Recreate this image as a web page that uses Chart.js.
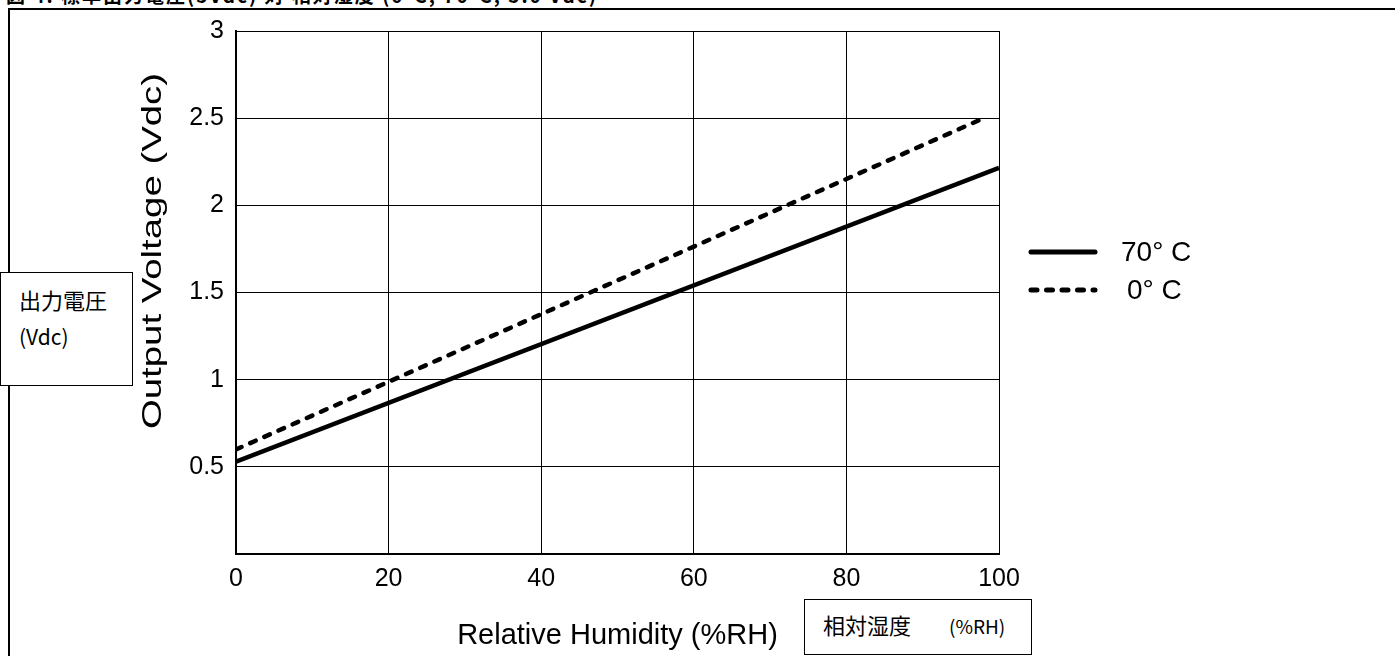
<!DOCTYPE html>
<html>
<head>
<meta charset="utf-8">
<script src="https://cdn.jsdelivr.net/npm/chart.js@4/dist/chart.umd.min.js"></script>
<style>
  html, body { margin: 0; padding: 0; background: #fff; overflow: hidden; }
  #wrap { position: relative; width: 1395px; height: 656px; }
  #frame { position: absolute; left: 8px; top: 8px; width: 1400px; height: 700px; border: 2px solid #000; box-sizing: border-box; }
  #title { position: absolute; left: 6px; top: -19px; font: bold 19px "Noto Sans CJK JP", sans-serif; white-space: nowrap; letter-spacing: 2px; }
  .box { position: absolute; background: #fff; border: 1px solid #000; box-sizing: border-box; font-family: "Noto Sans CJK JP", sans-serif; font-size: 22px; color: #000; }
  #ybox { left: 0; top: 272px; width: 133px; height: 114px; padding: 8px 0 0 18px; line-height: 36px; }
  #ybox .sm { font-size: 21px; }
  #xbox { left: 804px; top: 599px; width: 228px; height: 56px; padding: 0 0 0 18px; line-height: 48px; }
  #xbox .sm { font-size: 19px; margin-left: 38px; }
  canvas { position: absolute; left: 0; top: 0; }
</style>
</head>
<body>
<div id="wrap">
  <div id="title">図 4. 標準出力電圧(5Vdc) 対 相対湿度 (0°C, 70°C, 5.0 Vdc)</div>
  <div id="frame"></div>
  <canvas id="c" width="1395" height="656"></canvas>
  <div class="box" id="ybox">出力電圧<br><span class="sm">(Vdc)</span></div>
  <div class="box" id="xbox">相対湿度<span class="sm">(%RH)</span></div>
</div>
<script>
// values
var seriesLabels = ['70° C', '0° C'];
var hot = [{ x: 0, y: 0.53 }, { x: 100, y: 2.215 }];
var cold = [{ x: 0, y: 0.6 }, { x: 98, y: 2.5 }];
var xTicks = [0, 20, 40, 60, 80, 100];
var yTicks = [0.5, 1, 1.5, 2, 2.5, 3];
var yTitle = 'Output Voltage (Vdc)';
var xTitle = 'Relative Humidity (%RH)';

var family = '"Liberation Sans", Arial, sans-serif';
var tickFont = { family: family, size: 25 };
var titleFont = { family: family, size: 29 };

// legend drawn off to the right like the original, plus the long y title
var extras = {
   id: 'extras',
   afterDraw: function(chart) {
      var ctx = chart.ctx;
      var rows = [{ y: 252, tx: 1121 }, { y: 290, tx: 1127 }];
      chart.data.datasets.forEach(function(ds, i) {
         ctx.save();
         ctx.strokeStyle = '#000';
         ctx.lineWidth = 5;
         ctx.lineCap = 'round';
         ctx.setLineDash(ds.borderDash || []);
         ctx.beginPath();
         ctx.moveTo(1031, rows[i].y);
         ctx.lineTo(1095, rows[i].y);
         ctx.stroke();
         ctx.setLineDash([]);
         ctx.fillStyle = '#000';
         ctx.font = '28px ' + family;
         ctx.textBaseline = 'middle';
         ctx.fillText(ds.label, rows[i].tx, rows[i].y + 1);
         ctx.restore();
      });

      // the y title in the original is stretched along its length
      ctx.save();
      ctx.translate(153, 251);
      ctx.rotate(-Math.PI / 2);
      ctx.scale(1.37, 1);
      ctx.fillStyle = '#000';
      ctx.font = '28px ' + family;
      ctx.textAlign = 'center';
      ctx.textBaseline = 'middle';
      ctx.fillText(yTitle, 0, 0);
      ctx.restore();
   }
};

new Chart(document.getElementById('c'), {
   type: 'scatter',
   data: {
      datasets: [{
         label: seriesLabels[0],
         data: hot,
         showLine: true,
         borderColor: '#000',
         borderWidth: 4.5,
         pointRadius: 0
      }, {
         label: seriesLabels[1],
         data: cold,
         showLine: true,
         borderColor: '#000',
         borderWidth: 4.5,
         borderDash: [6, 9.5],
         borderCapStyle: 'round',
         pointRadius: 0
      }]
   },
   options: {
      responsive: false,
      animation: false,
      layout: { padding: { left: 126, right: 396, top: 31, bottom: 3 } },
      plugins: { legend: { display: false }, tooltip: { enabled: false } },
      scales: {
         x: {
            type: 'linear',
            min: 0, max: 100,
            afterBuildTicks: function(s) { s.ticks = xTicks.map(function(v) { return { value: v }; }); },
            afterFit: function(s) { s.height = 99; },
            grid: { color: '#000', lineWidth: 1, drawTicks: false },
            border: { color: '#000', width: 2 },
            ticks: { color: '#000', font: tickFont, padding: 10, maxRotation: 0 },
            title: { display: true, text: xTitle, color: '#000', font: titleFont, padding: { top: 0, bottom: 0 } }
         },
         y: {
            min: 0, max: 3,
            afterBuildTicks: function(s) { s.ticks = yTicks.map(function(v) { return { value: v }; }); },
            afterFit: function(s) { s.width = 110; },
            grid: { color: '#000', lineWidth: 1, drawTicks: false },
            border: { color: '#000', width: 2 },
            ticks: { color: '#000', font: tickFont, padding: 12, callback: function(v) { return String(v); } },
            title: { display: false }
         }
      }
   },
   plugins: [extras]
});
</script>
</body>
</html>
